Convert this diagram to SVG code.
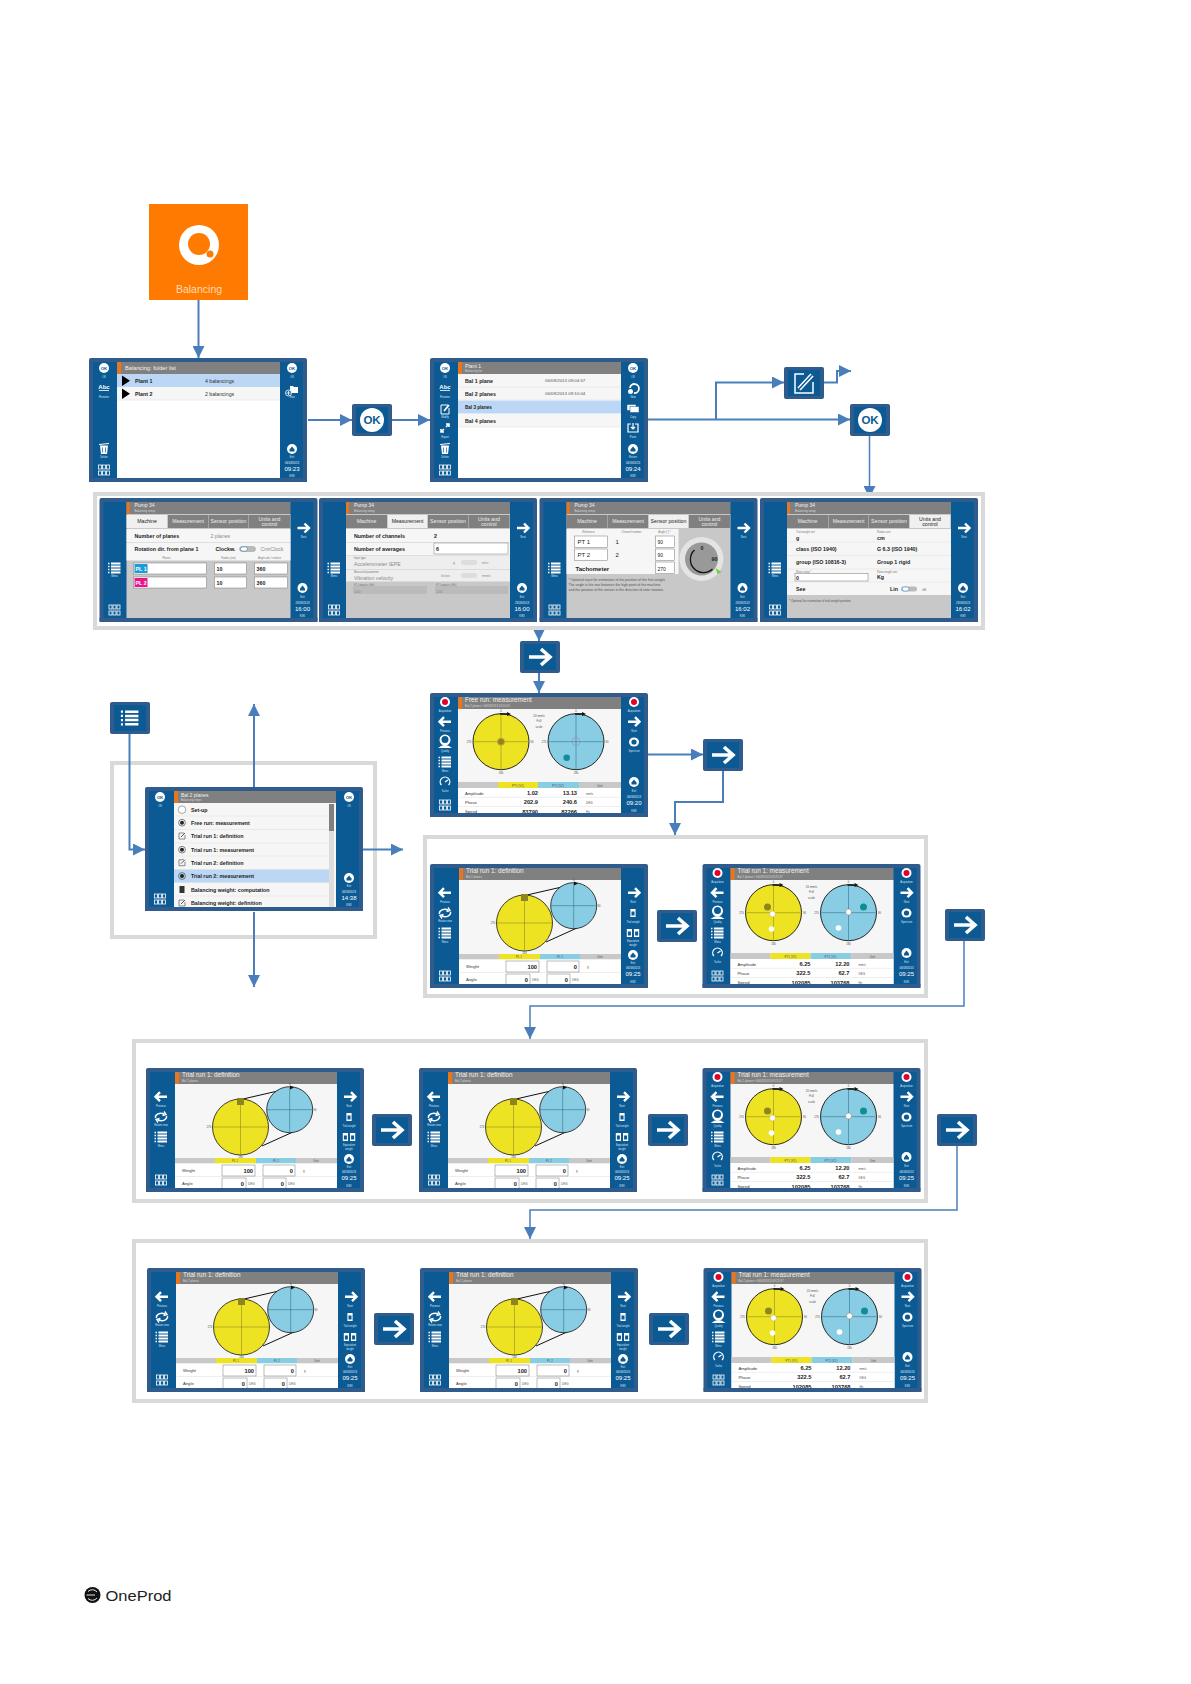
<svg xmlns="http://www.w3.org/2000/svg" width="1191" height="1684" viewBox="0 0 1191 1684">
<style>
text{font-family:"Liberation Sans",Arial,sans-serif}
.frame{fill:#fff;stroke:#d9d9d9;stroke-width:4}
.c{fill:none;stroke:#4a7ebb;stroke-width:2}
.c1{fill:none;stroke:#4a7ebb;stroke-width:1.5}
.l{fill:#d5e6f2;font-size:2.6px;text-anchor:middle}
.d{fill:#e6f0f7;font-size:2.8px;text-anchor:middle}
.h{fill:#fff;font-size:6px;text-anchor:middle}
.tt{fill:#f2f2f2;font-size:6.400px}
.st{fill:#d8d8d8;font-size:2.9px}
.ok{fill:#0b5a94;font-size:4.4px;font-weight:bold;text-anchor:middle}
.ax{fill:#444;font-size:2.6px;text-anchor:middle}
.th{fill:#555;font-size:3px;text-anchor:middle}
.r{fill:#333;font-size:4.2px}
.r2{fill:#333;font-size:5.200px}
.r3{fill:#222;font-size:6px}
.b{fill:#222;font-size:5.300px;font-weight:bold}
.v{fill:#222;font-size:5.700px;font-weight:bold;text-anchor:end}
.u{fill:#555;font-size:3px}
.g{fill:#8a8a8a;font-size:5.200px}
.s{fill:#777;font-size:2.7px}
.tab{fill:#eee;font-size:5.200px;text-anchor:middle}
.tabA{fill:#222;font-size:5.200px;text-anchor:middle}
.w{fill:none;stroke:#fff}
.in{fill:#fff;stroke:#777;stroke-width:.5}
</style>
<defs>
<marker id="ah" markerUnits="userSpaceOnUse" markerWidth="13" markerHeight="12" refX="12" refY="6" orient="auto"><path d="M0 0L12 6L0 12Z" fill="#4a7ebb"/></marker>
<g id="shell"><rect width="218" height="124" rx="2" fill="#2f5b8d"/><rect x="4" y="4" width="210" height="116" fill="#0b5a94"/></g>
<rect id="foot" y="120" width="218" height="4" fill="#2f5b8d"/>
<g id="ic-dot"><circle r="5" fill="#fff"/></g>
<g id="ic-rec"><circle r="5" fill="#fff"/><circle r="3" fill="#e3002b"/></g>
<path id="ic-next" d="M-6 0H5M1-4.5L5.5 0L1 4.5" class="w" stroke-width="2.4"/>
<path id="ic-prev" d="M6 0H-5M-1-4.5L-5.5 0L-1 4.5" class="w" stroke-width="2.4"/>
<g id="ic-list"><path d="M-3.5-4.5H6M-3.5-1.5H6M-3.5 1.5H6M-3.5 4.5H6" class="w" stroke-width="1.8"/><path d="M-6.5-4.5H-5M-6.5-1.5H-5M-6.5 1.5H-5M-6.5 4.5H-5" class="w" stroke-width="1.6"/></g>
<g id="ic-grid" class="w" stroke-width=".8"><rect x="-5.5" y="-5" width="3" height="4"/><rect x="-1.5" y="-5" width="3" height="4"/><rect x="2.5" y="-5" width="3" height="4"/><rect x="-5.5" y="1" width="3" height="4"/><rect x="-1.5" y="1" width="3" height="4"/><rect x="2.5" y="1" width="3" height="4"/></g>
<g id="ic-exit"><circle r="5" fill="#fff"/><path d="M-2.5 .5L0-2.5L2.5 .5V2.5H-2.5Z" fill="#0b5a94"/></g>
<g id="ic-person"><circle cy="-2" r="5.5" fill="#fff"/><circle cy="-2.5" r="3.5" fill="#0b5a94"/><path d="M-7 6Q0 0 7 6Z" fill="#fff"/></g>
<path id="ic-gauge" d="M-3.6 3A4.8 4.8 0 1 1 3.6 3M0 0L3-2" class="w" stroke-width="1.3"/>
<path id="ic-swap" d="M-5.5 1A5.5 4 0 0 1 3-3M5.5-1A5.5 4 0 0 1-3 3M3-5.5L5-2.5L1.5-1.5M-3 5.5L-5 2.5L-1.5 1.5" class="w" stroke-width="1.4"/>
<g id="ic-eye"><ellipse rx="5" ry="4.6" fill="#fff"/><circle r="2.6" fill="#0b5a94"/></g>
<g id="ic-w"><rect x="-2.6" y="-4" width="5.2" height="8" fill="#fff"/><rect x="-1.5" y="-1.5" width="3" height="4" fill="#0b5a94"/></g>
<g id="ic-dual"><use href="#ic-w" x="-3.6"/><use href="#ic-w" x="3.6"/></g>
<g id="ic-trash"><path d="M-4-3.5H4L3 5H-3Z" fill="#fff"/><path d="M-5-4.5L5-5.5M-1.5-1.5V3.5M1.5-1.5V3.5" stroke="#0b5a94" stroke-width=".7"/><path d="M-5-4.5L5-5.5" stroke="#fff" stroke-width="1"/></g>
<g id="ic-edit"><path d="M3-4H-4V5H4V-1" class="w" stroke-width="1"/><path d="M-1 2L4-4" class="w" stroke-width="1.8"/></g>
<g id="ic-folder"><path d="M-2-4H1L2-3H6V3H-2Z" fill="#fff"/><circle cx="-3.5" cy="3" r="3" fill="#0b5a94" stroke="#fff" stroke-width=".8"/><path d="M-5.5 3H-1.5M-3.5 1V5" stroke="#fff" stroke-width=".8"/></g>
<path id="ic-expand" d="M-4 4L-1 1M4-4L1-1M-4 1V4H-1M1-4H4V-1" class="w" stroke-width="1.6"/>
<g id="ic-refresh"><path d="M-3-1A4.5 4.5 0 1 1 1 4" class="w" stroke-width="1.8"/><circle cx="-2.5" cy="2.5" r="2.5" fill="#fff"/></g>
<g id="ic-copy"><rect x="-6" y="-3.5" width="9" height="6" fill="#fff" stroke="#0b5a94" stroke-width=".5"/><rect x="-3" y="-1.5" width="9" height="6" fill="#fff" stroke="#0b5a94" stroke-width=".5"/></g>
<path id="ic-paste" d="M-2-4H-5V4H5V-4H2M0-5V1M-2-1L0 1L2-1" class="w" stroke-width="1.2"/>
<g id="ic-edit-d"><path d="M2-3H-3V3H3V-1" fill="none" stroke="#444" stroke-width=".6"/><path d="M-1 1L3-3" stroke="#444" stroke-width=".9"/></g>
<g id="ic-radio"><circle r="3.4" fill="none" stroke="#333" stroke-width=".6"/><circle r="2" fill="#222"/></g>
<g id="list-bg"><use href="#shell"/><rect x="28" y="16" width="163" height="105" fill="#fff"/><rect x="28" y="4" width="163" height="12" fill="#808080"/><rect x="28" y="4" width="4" height="12" fill="#e8761f"/></g>
<g id="set-bg"><use href="#shell"/><rect x="27" y="16" width="164" height="105" fill="#c8c8c8"/><rect x="27" y="4" width="164" height="12" fill="#808080"/><rect x="27" y="4" width="3" height="12" fill="#e8761f"/><rect x="27" y="17" width="41" height="13" fill="#808080"/><rect x="68.500" y="17" width="40" height="13" fill="#808080"/><rect x="109" y="17" width="40" height="13" fill="#808080"/><rect x="149.500" y="17" width="41" height="13" fill="#808080"/><use href="#ic-next" x="204" y="30"/><use href="#ic-exit" x="203" y="90"/><use href="#ic-list" x="15" y="70"/><use href="#ic-grid" x="15" y="112"/></g>
<g id="def-bg"><use href="#shell"/><rect x="29" y="16" width="162" height="105" fill="#f6f6f6"/><rect x="29" y="4" width="162" height="12" fill="#808080"/><rect x="29" y="4" width="4" height="12" fill="#e8761f"/>
<path d="M97 31L147 19.500M116 78L147 64" stroke="#111" stroke-width="1"/><circle cx="94.500" cy="59" r="28" fill="#ede322" stroke="#111" stroke-width=".8"/><circle cx="143.700" cy="41.700" r="23" fill="#89cde4" stroke="#111" stroke-width=".8"/>
<path d="M94.500 31V87M66.500 59H122.500" stroke="#7d7a1d" stroke-width=".5"/><path d="M143.700 19V65M120.700 41.700H166.700" stroke="#20607a" stroke-width=".5"/><rect x="91" y="30" width="7" height="7" fill="#8d8620"/><path d="M144 17.500L148 19.500L144 21.500Z" fill="#111"/>
<rect x="29" y="90" width="40" height="5.500" fill="#c8c8c8"/><rect x="69" y="90" width="41" height="5.500" fill="#ede322"/><rect x="110" y="90" width="40" height="5.500" fill="#89cde4"/><rect x="150" y="90" width="41" height="5.500" fill="#c8c8c8"/>
<rect x="29" y="95.500" width="162" height="26" fill="#fff"/><path d="M29 108.500H191" stroke="#ddd" stroke-width=".5"/>
<rect x="76" y="97" width="33" height="11" class="in"/><rect x="117" y="97" width="32" height="11" class="in"/><rect x="76" y="110" width="24" height="11" class="in"/><rect x="117" y="110" width="23" height="11" class="in"/>
<use href="#ic-prev" x="15" y="28.700"/><use href="#ic-swap" x="15" y="49"/><use href="#ic-list" x="15" y="69"/><use href="#ic-grid" x="15" y="112"/><use href="#ic-next" x="204" y="28.700"/><use href="#ic-w" x="203" y="49"/><use href="#ic-dual" x="203" y="69"/><use href="#ic-exit" x="203" y="91"/></g>
<g id="meas-bg"><use href="#shell"/><rect x="28" y="16" width="163" height="105" fill="#f6f6f6"/><rect x="28" y="4" width="163" height="12" fill="#808080"/><rect x="28" y="4" width="4" height="12" fill="#e8761f"/>
<circle cx="71" cy="48.700" r="28" fill="#ede322" stroke="#111" stroke-width=".9"/><circle cx="146" cy="48.700" r="28" fill="#89cde4" stroke="#111" stroke-width=".9"/>
<path d="M71 20.700V76.700M43 48.700H99" stroke="#7d7a1d" stroke-width=".5"/><path d="M146 20.700V76.700M118 48.700H174" stroke="#20607a" stroke-width=".5"/>
<path d="M70 21H77M145 21H152" stroke="#111" stroke-width="1.400"/><path d="M77 19L81 21L77 23ZM152 19L156 21L152 23Z" fill="#111"/>
<rect x="28" y="89" width="40" height="6" fill="#c8c8c8"/><rect x="68" y="89" width="40" height="6" fill="#ede322"/><rect x="108" y="89" width="41" height="6" fill="#89cde4"/><rect x="149" y="89" width="42" height="6" fill="#c8c8c8"/>
<rect x="28" y="95" width="163" height="26" fill="#fff"/><path d="M28 104.300H191M28 113.500H191" stroke="#ddd" stroke-width=".5"/>
<use href="#ic-rec" x="15" y="9"/><use href="#ic-prev" x="15" y="28.700"/><use href="#ic-person" x="15" y="49"/><use href="#ic-list" x="15" y="69"/><use href="#ic-gauge" x="15" y="89"/><use href="#ic-grid" x="15" y="112"/><use href="#ic-rec" x="204" y="9"/><use href="#ic-next" x="204" y="28.700"/><use href="#ic-eye" x="204" y="49"/><use href="#ic-exit" x="204" y="89"/></g>
<g id="meas-dots"><circle cx="65" cy="43" r="3.500" fill="#8d8620"/><circle cx="70" cy="50" r="3" fill="#fff" stroke="#c9a030" stroke-width=".5"/><circle cx="69" cy="65" r="2.800" fill="#fff"/><circle cx="161" cy="43" r="3.500" fill="#0e8f96"/><circle cx="146" cy="48" r="3" fill="#fff" stroke="#777" stroke-width=".5"/><circle cx="136" cy="64" r="2.800" fill="#fff"/></g>
<g id="btn"><rect width="40" height="32" rx="2" fill="#2f5b8d"/><rect x="4" y="3" width="32" height="26" fill="#0b5a94"/></g>
<g id="btn-arrow"><use href="#btn"/><path d="M9 16H29M21 8L30 16L21 24" fill="none" stroke="#fff" stroke-width="3.600"/></g>
</defs>

<g id="frames">
<rect class="frame" x="112" y="763" width="263" height="174"/>
<rect class="frame" x="425" y="837" width="501" height="159"/>
<rect class="frame" x="134" y="1041" width="792" height="160"/>
<rect class="frame" x="134" y="1241" width="792" height="160"/>
</g>

<g id="connectors">
<path class="c" marker-end="url(#ah)" d="M198.500 300V358"/>
<path class="c" marker-end="url(#ah)" d="M308 420H352"/>
<path class="c" marker-end="url(#ah)" d="M392 420H430"/>
<path class="c" marker-end="url(#ah)" d="M648 419.500H850"/>
<path class="c" marker-end="url(#ah)" d="M716 419.500V382.500H784"/>
<path class="c" marker-end="url(#ah)" d="M824 382.500H837V371H851"/>
<path class="c1" marker-end="url(#ah)" d="M869.500 436V498"/>
<path class="c" marker-end="url(#ah)" d="M539 622V641"/>
<path class="c" marker-end="url(#ah)" d="M539 672V693"/>
<path class="c" marker-end="url(#ah)" d="M648 754.500H703"/>
<path class="c" marker-end="url(#ah)" d="M723 771V802H675V835"/>
<path class="c" marker-end="url(#ah)" d="M129.500 733V849.500H145"/>
<path class="c" marker-end="url(#ah)" d="M254 787V704"/>
<path class="c" marker-end="url(#ah)" d="M254 912V987"/>
<path class="c" marker-end="url(#ah)" d="M363 849.500H403"/>
<path class="c1" marker-end="url(#ah)" d="M964 941V1006H530V1039"/>
<path class="c1" marker-end="url(#ah)" d="M957 1146V1210H530V1239"/>
</g>

<rect class="frame" id="frame-setup" x="95" y="494" width="888" height="134"/>

<g id="tile-balancing"><rect x="149" y="204" width="99" height="96" fill="#ff7a00"/><circle cx="199" cy="245" r="20" fill="#fff"/><circle cx="199" cy="244" r="11" fill="#ff7a00"/><circle cx="210" cy="254" r="3.500" fill="#ff7a00"/><text x="199" y="293" font-size="10.500" text-anchor="middle" fill="#ffdcb8">Balancing</text></g>

<g id="screen-folders" transform="translate(89 358)"><use href="#list-bg"/>
<rect x="28" y="16" width="163" height="13" fill="#bcd7f5"/><rect x="28" y="29" width="163" height="13" fill="#f6f6f6"/><path d="M28 42H191" stroke="#ddd" stroke-width=".5"/>
<path d="M33 17.500L41 22.700L33 28ZM33 30.500L41 35.700L33 41Z" fill="#000"/>
<text class="tt" x="36" y="11.500" style="font-size:5.700px">Balancing: folder list</text>
<text class="b" x="46" y="24.500">Plant 1</text><text class="r2" x="116" y="24.500">4 balancings</text><text class="b" x="46" y="37.500">Plant 2</text><text class="r2" x="116" y="37.500">2 balancings</text>
<use href="#ic-dot" x="15" y="10"/><text class="ok" x="15" y="11.600">OK</text><text class="l" x="15" y="20">OK</text>
<text x="15" y="31" font-size="6" font-weight="bold" fill="#fff" text-anchor="middle">Abc</text><path d="M10 32.500H20" stroke="#fff" stroke-width=".8"/><text class="l" x="15" y="40">Rename</text>
<use href="#ic-trash" x="15" y="91"/><text class="l" x="15" y="100">Delete</text><use href="#ic-grid" x="15" y="112"/>
<use href="#ic-dot" x="203" y="10"/><text class="ok" x="203" y="11.600">OK</text><text class="l" x="203" y="20">OK</text>
<use href="#ic-folder" x="203" y="32"/><text class="l" x="203" y="40">New</text>
<use href="#ic-exit" x="203" y="91"/><text class="l" x="203" y="100">Exit</text><text class="d" x="203" y="106">06/09/2013</text><text class="h" x="203" y="113">09:23</text><text class="d" x="203" y="119">KIKI</text><use href="#foot"/></g>

<g id="screen-balancings" transform="translate(430 358)"><use href="#list-bg"/>
<rect x="28" y="16" width="163" height="13" fill="#f6f6f6"/><rect x="28" y="29" width="163" height="13" fill="#f6f6f6"/><rect x="28" y="42.500" width="163" height="13" fill="#bcd7f5"/><rect x="28" y="56" width="163" height="13" fill="#f6f6f6"/><path d="M28 29H191M28 42H191M28 69H191" stroke="#ddd" stroke-width=".5"/>
<text class="tt" x="35" y="9.500" style="font-size:5.200px">Plant 1</text><text class="st" x="35" y="14">Balancing list</text>
<text class="b" x="35" y="24.500">Bal 1 plane</text><text class="u" x="115" y="24" style="font-size:4.400px">06/09/2013 09:04:57</text><text class="b" x="35" y="37.500">Bal 2 planes</text><text class="u" x="115" y="37" style="font-size:4.400px">06/09/2013 09:10:04</text><text class="b" x="35" y="50.700" style="font-size:4.600px">Bal 3 planes</text><text class="b" x="35" y="64.500">Bal 4 planes</text>
<use href="#ic-dot" x="15" y="10"/><text class="ok" x="15" y="11.600">OK</text><text class="l" x="15" y="20">OK</text>
<text x="15" y="31" font-size="6" font-weight="bold" fill="#fff" text-anchor="middle">Abc</text><path d="M10 32.500H20" stroke="#fff" stroke-width=".8"/><text class="l" x="15" y="40">Rename</text>
<use href="#ic-edit" x="15" y="51"/><text class="l" x="15" y="60">Modify</text><use href="#ic-expand" x="15" y="70"/><text class="l" x="15" y="80">Export</text><use href="#ic-trash" x="15" y="91"/><text class="l" x="15" y="100">Delete</text><use href="#ic-grid" x="15" y="112"/>
<use href="#ic-dot" x="203" y="10"/><text class="ok" x="203" y="11.600">OK</text><text class="l" x="203" y="20">OK</text>
<use href="#ic-refresh" x="203" y="31"/><text class="l" x="203" y="40">New</text><use href="#ic-copy" x="203" y="50"/><text class="l" x="203" y="60">Copy</text><use href="#ic-paste" x="203" y="70"/><text class="l" x="203" y="80">Paste</text>
<use href="#ic-exit" x="203" y="91"/><text class="l" x="203" y="100">Return</text><text class="d" x="203" y="106">06/09/2013</text><text class="h" x="203" y="113">09:24</text><text class="d" x="203" y="119">KIKI</text><use href="#foot"/></g>

<g id="btn-ok-1" transform="translate(352 404)"><use href="#btn"/><circle cx="20" cy="16" r="12" fill="#fff"/><text x="20" y="20" font-size="11.500" font-weight="bold" fill="#0b5a94" text-anchor="middle">OK</text></g>
<g id="btn-edit" transform="translate(784 367)"><use href="#btn"/><path d="M20 7H11V26H29V15" fill="none" stroke="#fff" stroke-width="1.500"/><path d="M15 22L28 8" stroke="#fff" stroke-width="4.500"/><path d="M15 22L28 8" stroke="#0b5a94" stroke-width="1.500"/></g>
<g id="btn-ok-2" transform="translate(850 404)"><use href="#btn"/><circle cx="20" cy="16" r="12" fill="#fff"/><text x="20" y="20" font-size="11.500" font-weight="bold" fill="#0b5a94" text-anchor="middle">OK</text></g>

<g id="screen-setup-machine" transform="translate(99.500 498)"><use href="#set-bg"/>
<rect x="27" y="17" width="41" height="13" fill="#f0f0f0"/><rect x="27" y="31" width="164" height="13" fill="#f6f6f6"/><rect x="27" y="44.500" width="164" height="18" fill="#f6f6f6"/>
<text class="tt" x="35" y="9" style="font-size:5px">Pump 34</text><text class="st" x="35" y="13.500">Balancing setup</text>
<text class="tabA" x="47.500" y="25">Machine</text><text class="tab" x="88.500" y="25">Measurement</text><text class="tab" x="129" y="25">Sensor position</text><text class="tab" x="170" y="22.500">Units and</text><text class="tab" x="170" y="28">control</text>
<text class="b" x="35" y="39.500">Number of planes</text><text class="g" x="111" y="39.500">2 planes</text>
<text class="b" x="35" y="52.500">Rotation dir. from plane 1</text><text class="b" x="116" y="52.500">Clockw.</text><rect x="140" y="48.500" width="16" height="5" rx="2.500" fill="#bbb" stroke="#888" stroke-width=".4"/><rect x="141" y="49" width="7" height="4" rx="2" fill="#fff" stroke="#1b75b5" stroke-width=".5"/><text class="g" x="161" y="52.500">CntrClock</text>
<text class="s" x="67" y="61" text-anchor="middle">Planes</text><text class="s" x="129" y="61" text-anchor="middle">Radius (cm)</text><text class="s" x="170" y="61" text-anchor="middle">Angle abs / relative</text>
<rect class="in" x="34" y="65" width="73" height="11"/><rect class="in" x="115" y="65" width="32" height="11"/><rect class="in" x="155" y="65" width="33" height="11"/><rect class="in" x="34" y="79" width="73" height="11"/><rect class="in" x="115" y="79" width="32" height="11"/><rect class="in" x="155" y="79" width="33" height="11"/>
<rect x="35" y="66" width="13" height="9" fill="#1b9bd7"/><rect x="35" y="80" width="13" height="9" fill="#e6178c"/><text class="b" x="36" y="72.500" style="fill:#fff">PL 1</text><text class="b" x="36" y="86.500" style="fill:#fff">PL 2</text>
<text class="b" x="117" y="72.500">10</text><text class="b" x="157" y="72.500">360</text><text class="b" x="117" y="86.500">10</text><text class="b" x="157" y="86.500">360</text>
<text class="l" x="204" y="40">Next</text><text class="l" x="15" y="79">Menu</text><text class="l" x="203" y="100">Exit</text><text class="d" x="203" y="106">23/09/2013</text><text class="h" x="203" y="113">16:00</text><text class="d" x="203" y="119">KIKI</text><use href="#foot"/></g>

<g id="screen-setup-measurement" transform="translate(319 498)"><use href="#set-bg"/>
<rect x="68.500" y="17" width="40" height="13" fill="#f0f0f0"/><rect x="27" y="31" width="164" height="13" fill="#f6f6f6"/><rect x="27" y="44.500" width="164" height="13" fill="#f6f6f6"/><rect x="27" y="58" width="164" height="13" fill="#eee"/><rect x="27" y="71.500" width="164" height="12" fill="#eee"/>
<text class="tt" x="35" y="9" style="font-size:5px">Pump 34</text><text class="st" x="35" y="13.500">Balancing setup</text>
<text class="tab" x="47.500" y="25">Machine</text><text class="tabA" x="88.500" y="25">Measurement</text><text class="tab" x="129" y="25">Sensor position</text><text class="tab" x="170" y="22.500">Units and</text><text class="tab" x="170" y="28">control</text>
<text class="b" x="35" y="39.500">Number of channels</text><text class="b" x="115" y="39.500">2</text><text class="b" x="35" y="52.500">Number of averages</text><rect class="in" x="115" y="45" width="74" height="11"/><text class="b" x="117" y="52.500">6</text>
<text class="s" x="35" y="61">Input type</text><text class="g" x="35" y="68">Accelerometer IEPE</text><text class="g" x="134" y="66" style="font-size:3.500px">g</text><rect x="142" y="62" width="16" height="5" rx="2" fill="#ddd"/><text class="g" x="163" y="66" style="font-size:3.500px">m/s²</text>
<text class="s" x="35" y="74.500">Measured parameter</text><text class="g" x="35" y="81.500">Vibration velocity</text><text class="g" x="122" y="79" style="font-size:3.500px">In/sec</text><rect x="142" y="75" width="16" height="5" rx="2" fill="#ddd"/><text class="g" x="163" y="79" style="font-size:3.500px">mm/s</text>
<rect x="34" y="88" width="74" height="8" fill="#bbb"/><rect x="116" y="88" width="73" height="8" fill="#bbb"/><text class="s" x="35" y="87.500">F1 Lowpass (Hz)</text><text class="s" x="117" y="87.500">F2 Lowpass (Hz)</text><text class="g" x="35" y="94.500" style="font-size:4px">100</text><text class="g" x="117" y="94.500" style="font-size:4px">100</text>
<text class="l" x="204" y="40">Next</text><text class="l" x="15" y="79">Menu</text><text class="l" x="203" y="100">Exit</text><text class="d" x="203" y="106">23/09/2013</text><text class="h" x="203" y="113">16:00</text><text class="d" x="203" y="119">KIKI</text><use href="#foot"/></g>

<g id="screen-setup-sensor" transform="translate(539.500 498)"><use href="#set-bg"/>
<rect x="109" y="17" width="40" height="13" fill="#f0f0f0"/><rect x="27" y="31" width="112" height="45" fill="#f6f6f6"/>
<text class="tt" x="35" y="9" style="font-size:5px">Pump 34</text><text class="st" x="35" y="13.500">Balancing setup</text>
<text class="tab" x="47.500" y="25">Machine</text><text class="tab" x="88.500" y="25">Measurement</text><text class="tabA" x="129" y="25">Sensor position</text><text class="tab" x="170" y="22.500">Units and</text><text class="tab" x="170" y="28">control</text>
<text class="s" x="49" y="34.500" text-anchor="middle">Reference</text><text class="s" x="92" y="34.500" text-anchor="middle">Channel number</text><text class="s" x="125" y="34.500" text-anchor="middle">Angle (°) *</text>
<rect class="in" x="35" y="38" width="33" height="11.500"/><rect class="in" x="116" y="38" width="19" height="11.500"/><rect class="in" x="35" y="51" width="33" height="11.500"/><rect class="in" x="116" y="51" width="19" height="11.500"/><rect class="in" x="116" y="64" width="19" height="11.500"/>
<text class="r3" x="38" y="46">PT 1</text><text class="r3" x="76" y="46">1</text><text class="r3" x="118" y="46" style="font-size:5px">90</text><text class="r3" x="38" y="59">PT 2</text><text class="r3" x="76" y="59">2</text><text class="r3" x="118" y="59" style="font-size:5px">90</text><text class="b" x="36" y="72.500" style="font-size:6px">Tachometer</text><text class="r3" x="118" y="72.500" style="font-size:5px">270</text>
<text class="u" x="29" y="83" style="font-size:3.500px">* Optional input for estimation of the position of the first weight.</text><text class="u" x="29" y="88" style="font-size:3.500px">The angle is the one between the high point of the machine</text><text class="u" x="29" y="93" style="font-size:3.500px">and the position of the sensor in the direction of rotor rotation.</text>
<circle cx="162" cy="61" r="22" fill="#e4e4e4"/><circle cx="162" cy="61" r="16.500" fill="#999"/><path d="M155 52A11.500 11.500 0 1 0 173 71" fill="none" stroke="#111" stroke-width="1.300"/><path d="M176 70L182 74L178 76Z" fill="#6fd13c"/><text class="b" x="161" y="52">0</text><text class="b" x="172" y="63">90</text>
<text class="l" x="204" y="40">Next</text><text class="l" x="15" y="79">Menu</text><text class="l" x="203" y="100">Exit</text><text class="d" x="203" y="106">23/09/2013</text><text class="h" x="203" y="113">16:02</text><text class="d" x="203" y="119">KIKI</text><use href="#foot"/></g>

<g id="screen-setup-units" transform="translate(760 498)"><use href="#set-bg"/>
<rect x="149.500" y="17" width="41" height="13" fill="#f0f0f0"/><rect x="27" y="31" width="164" height="66" fill="#f6f6f6"/><path d="M27 44H191M27 57.500H191M27 71H191M27 84H191" stroke="#ddd" stroke-width=".5"/>
<text class="tt" x="35" y="9" style="font-size:5px">Pump 34</text><text class="st" x="35" y="13.500">Balancing setup</text>
<text class="tab" x="47.500" y="25">Machine</text><text class="tab" x="88.500" y="25">Measurement</text><text class="tab" x="129" y="25">Sensor position</text><text class="tabA" x="170" y="22.500">Units and</text><text class="tabA" x="170" y="28">control</text>
<text class="s" x="36" y="34.500">Trial weight unit</text><text class="b" x="36" y="41.500">g</text><text class="s" x="117" y="34.500">Radius unit</text><text class="b" x="117" y="41.500">cm</text>
<text class="b" x="36" y="52.500">class (ISO 1940)</text><text class="b" x="117" y="52.500">G 6.3 (ISO 1940)</text><text class="b" x="36" y="66">group (ISO 10816-3)</text><text class="b" x="117" y="66">Group 1 rigid</text>
<rect class="in" x="35" y="75.500" width="73" height="7.500"/><text class="s" x="36" y="74.500">Rotor value *</text><text class="b" x="36" y="82">0</text><text class="s" x="117" y="74.500">Rotor weight unit</text><text class="b" x="117" y="81">Kg</text>
<text class="b" x="36" y="92.500">See</text><text class="b" x="130" y="92.500">Lin</text><rect x="141" y="88.500" width="16" height="5" rx="2.500" fill="#bbb"/><rect x="142" y="89" width="7" height="4" rx="2" fill="#fff" stroke="#1b75b5" stroke-width=".5"/><text class="g" x="162" y="92.500" style="font-size:3.800px">dB</text>
<text class="u" x="29" y="104">* Optional for estimation of trial weight position</text>
<text class="l" x="204" y="40">Next</text><text class="l" x="15" y="79">Menu</text><text class="l" x="203" y="100">Exit</text><text class="d" x="203" y="106">23/09/2013</text><text class="h" x="203" y="113">16:02</text><text class="d" x="203" y="119">KIKI</text><use href="#foot"/></g>

<use id="btn-arrow-1" href="#btn-arrow" x="520" y="641"/>

<g id="btn-menu" transform="translate(110 702)"><use href="#btn"/><g transform="translate(20 16) scale(1.400)"><use href="#ic-list"/></g></g>

<g id="screen-menu" transform="translate(145 787)"><use href="#shell"/><rect x="29" y="16" width="162" height="105" fill="#f6f6f6"/><rect x="29" y="4" width="162" height="12" fill="#808080"/><rect x="29" y="4" width="4" height="12" fill="#e8761f"/>
<rect x="29" y="82.500" width="155" height="13" fill="#bcd7f5"/><path d="M29 29H184M29 42.500H184M29 56H184M29 69H184M29 82.500H184M29 95.500H184M29 109H184" stroke="#ddd" stroke-width=".5"/><rect x="184" y="17" width="5" height="104" fill="#ddd"/><rect x="184" y="17" width="5" height="27" fill="#808080"/>
<text class="tt" x="36" y="9.500" style="font-size:5px">Bal 2 planes</text><text class="st" x="36" y="14">Balancing steps</text>
<circle cx="37" cy="22.700" r="3.800" fill="#fff" stroke="#555" stroke-width=".5"/><text class="b" x="46" y="24.500">Set-up</text>
<use href="#ic-radio" x="37" y="35.700"/><text class="b" x="46" y="37.500">Free run: measurement</text>
<use href="#ic-edit-d" x="37" y="49"/><text class="b" x="46" y="50.700">Trial run 1: definition</text>
<use href="#ic-radio" x="37" y="62.700"/><text class="b" x="46" y="64.500">Trial run 1: measurement</text>
<use href="#ic-edit-d" x="37" y="75.700"/><text class="b" x="46" y="77.500">Trial run 2: definition</text>
<use href="#ic-radio" x="37" y="89"/><text class="b" x="46" y="90.700">Trial run 2: measurement</text>
<rect x="34.500" y="99" width="5" height="7" fill="#333"/><text class="b" x="46" y="104.500">Balancing weight: computation</text>
<use href="#ic-edit-d" x="37" y="116"/><text class="b" x="46" y="117.700">Balancing weight: definition</text>
<use href="#ic-dot" x="15" y="10"/><text class="ok" x="15" y="11.600">OK</text><text class="l" x="15" y="20">OK</text><use href="#ic-grid" x="15" y="112"/>
<use href="#ic-dot" x="204" y="10"/><text class="ok" x="204" y="11.600">OK</text><text class="l" x="204" y="20">OK</text><use href="#ic-exit" x="204" y="91"/><text class="l" x="204" y="100">Exit</text><text class="d" x="204" y="106">06/09/2013</text><text class="h" x="204" y="113">14:38</text><text class="d" x="204" y="119">KIKI</text><use href="#foot"/></g>

<g id="screen-free-run" transform="translate(430 693)"><use href="#meas-bg"/>
<circle cx="71" cy="48.700" r="3.500" fill="#8d8620" stroke="#c9a030" stroke-width="1"/><circle cx="146" cy="48.700" r="4" fill="none" stroke="#a5799e" stroke-width=".5"/><circle cx="136.700" cy="64.700" r="3.300" fill="#0e8f96"/>
<text class="tt" x="35" y="8.500">Free run: measurement</text><text class="st" x="35" y="13.500">Bal 2 planes • 06/09/2013 09:20:05</text>
<text class="ax"><tspan x="71" y="19">0</tspan><tspan x="102" y="50">90</tspan><tspan x="71" y="81">180</tspan><tspan x="39" y="50">270</tspan><tspan x="146" y="19">0</tspan><tspan x="177" y="50">90</tspan><tspan x="146" y="81">180</tspan><tspan x="114" y="50">270</tspan></text>
<text class="th" x="109" y="23.500">20 mm/s</text><text class="th" x="109" y="29">Full</text><text class="th" x="109" y="34.500">scale</text>
<text class="th" x="88" y="93.500">PT1 (V1)</text><text class="th" x="128" y="93.500">PT2 (V2)</text><text class="th" x="170" y="93.500">Unit</text>
<text class="r" x="35" y="101.500">Amplitude</text><text class="v" x="108" y="102">1.02</text><text class="v" x="147" y="102">13.13</text><text class="u" x="156" y="101.500">mm/s</text>
<text class="r" x="35" y="110.800">Phase</text><text class="v" x="108" y="111">202.9</text><text class="v" x="147" y="111">240.6</text><text class="u" x="156" y="110.800">DEG</text>
<text class="r" x="35" y="120">Speed</text><text class="v" x="108" y="120.500">83790</text><text class="v" x="147" y="120.500">82266</text><text class="u" x="156" y="120">Hz</text>
<text class="l" x="15" y="18.700">Acquisition</text><text class="l" x="15" y="39">Previous</text><text class="l" x="15" y="59">Quality</text><text class="l" x="15" y="79">Menu</text><text class="l" x="15" y="99">Tacho</text>
<text class="l" x="204" y="18.700">Acquisition</text><text class="l" x="204" y="39">Next</text><text class="l" x="204" y="59">Spectrum</text><text class="l" x="204" y="99">Exit</text><text class="d" x="204" y="105">06/09/2013</text><text class="h" x="204" y="112">09:20</text><text class="d" x="204" y="119">KIKI</text><use href="#foot"/></g>

<use id="btn-arrow-2" href="#btn-arrow" x="703" y="739"/>

<g id="screen-def-1" transform="translate(430 864)"><use href="#def-bg"/>
<text class="tt" x="36" y="8.500">Trial run 1: definition</text><text class="st" x="36" y="13.500">Bal 2 planes</text>
<text class="ax"><tspan x="143.700" y="17">0</tspan><tspan x="169" y="43">90</tspan><tspan x="94.500" y="90">180</tspan><tspan x="63" y="60">270</tspan></text>
<text class="th" x="89" y="94">PL 1</text><text class="th" x="130" y="94">PL 2</text><text class="th" x="170" y="94">Unit</text>
<text class="r" x="36" y="104">Weight</text><text class="v" x="107" y="105">100</text><text class="v" x="147" y="105">0</text><text class="u" x="157" y="104">g</text>
<text class="r" x="36" y="117">Angle</text><text class="v" x="98" y="118">0</text><text class="u" x="102" y="117">DEG</text><text class="v" x="138" y="118">0</text><text class="u" x="142" y="117">DEG</text>
<text class="l" x="15" y="39">Previous</text><text class="l" x="15" y="58">Rotate view</text><text class="l" x="15" y="79">Menu</text><text class="l" x="203" y="39">Next</text><text class="l" x="203" y="59">Trial weight</text><text class="l" x="203" y="78">Equivalent</text><text class="l" x="203" y="81.500">weight</text><text class="l" x="203" y="99.500">Exit</text><text class="d" x="203" y="105">06/09/2013</text><text class="h" x="203" y="112">09:25</text><text class="d" x="203" y="119">KIKI</text><use href="#foot"/></g>

<use id="btn-arrow-3" href="#btn-arrow" x="657" y="910"/>

<g id="screen-meas-1" transform="translate(702.500 864)"><use href="#meas-bg"/><use href="#meas-dots"/>
<text class="tt" x="35" y="8.500">Trial run 1: measurement</text><text class="st" x="35" y="13.500">Bal 2 planes • 06/09/2013 09:25:37</text>
<text class="ax"><tspan x="71" y="19">0</tspan><tspan x="102" y="50">90</tspan><tspan x="71" y="81">180</tspan><tspan x="39" y="50">270</tspan><tspan x="146" y="19">0</tspan><tspan x="177" y="50">90</tspan><tspan x="146" y="81">180</tspan><tspan x="114" y="50">270</tspan></text>
<text class="th" x="109" y="23.500">20 mm/s</text><text class="th" x="109" y="29">Full</text><text class="th" x="109" y="34.500">scale</text>
<text class="th" x="88" y="93.500">PT1 (V1)</text><text class="th" x="128" y="93.500">PT2 (V2)</text><text class="th" x="170" y="93.500">Unit</text>
<text class="r" x="35" y="101.500">Amplitude</text><text class="v" x="108" y="102">6.25</text><text class="v" x="147" y="102">12.20</text><text class="u" x="156" y="101.500">mm/s</text>
<text class="r" x="35" y="110.800">Phase</text><text class="v" x="108" y="111">322.5</text><text class="v" x="147" y="111">62.7</text><text class="u" x="156" y="110.800">DEG</text>
<text class="r" x="35" y="120">Speed</text><text class="v" x="108" y="120.500">102085</text><text class="v" x="147" y="120.500">103768</text><text class="u" x="156" y="120">Hz</text>
<text class="l" x="15" y="18.700">Acquisition</text><text class="l" x="15" y="39">Previous</text><text class="l" x="15" y="59">Quality</text><text class="l" x="15" y="79">Menu</text><text class="l" x="15" y="99">Tacho</text>
<text class="l" x="204" y="18.700">Acquisition</text><text class="l" x="204" y="39">Next</text><text class="l" x="204" y="59">Spectrum</text><text class="l" x="204" y="99">Exit</text><text class="d" x="204" y="105">06/09/2013</text><text class="h" x="204" y="112">09:25</text><text class="d" x="204" y="119">KIKI</text><use href="#foot"/></g>

<use id="btn-arrow-4" href="#btn-arrow" x="945" y="909"/>

<g id="screen-def-2" transform="translate(146 1068)"><use href="#def-bg"/>
<text class="tt" x="36" y="8.500">Trial run 1: definition</text><text class="st" x="36" y="13.500">Bal 2 planes</text>
<text class="ax"><tspan x="143.700" y="17">0</tspan><tspan x="169" y="43">90</tspan><tspan x="94.500" y="90">180</tspan><tspan x="63" y="60">270</tspan></text>
<text class="th" x="89" y="94">PL 1</text><text class="th" x="130" y="94">PL 2</text><text class="th" x="170" y="94">Unit</text>
<text class="r" x="36" y="104">Weight</text><text class="v" x="107" y="105">100</text><text class="v" x="147" y="105">0</text><text class="u" x="157" y="104">g</text>
<text class="r" x="36" y="117">Angle</text><text class="v" x="98" y="118">0</text><text class="u" x="102" y="117">DEG</text><text class="v" x="138" y="118">0</text><text class="u" x="142" y="117">DEG</text>
<text class="l" x="15" y="39">Previous</text><text class="l" x="15" y="58">Rotate view</text><text class="l" x="15" y="79">Menu</text><text class="l" x="203" y="39">Next</text><text class="l" x="203" y="59">Trial weight</text><text class="l" x="203" y="78">Equivalent</text><text class="l" x="203" y="81.500">weight</text><text class="l" x="203" y="99.500">Exit</text><text class="d" x="203" y="105">06/09/2013</text><text class="h" x="203" y="112">09:25</text><text class="d" x="203" y="119">KIKI</text><use href="#foot"/></g>

<use id="btn-arrow-5" href="#btn-arrow" x="372" y="1114"/>

<g id="screen-def-3" transform="translate(419 1068)"><use href="#def-bg"/>
<text class="tt" x="36" y="8.500">Trial run 1: definition</text><text class="st" x="36" y="13.500">Bal 2 planes</text>
<text class="ax"><tspan x="143.700" y="17">0</tspan><tspan x="169" y="43">90</tspan><tspan x="94.500" y="90">180</tspan><tspan x="63" y="60">270</tspan></text>
<text class="th" x="89" y="94">PL 1</text><text class="th" x="130" y="94">PL 2</text><text class="th" x="170" y="94">Unit</text>
<text class="r" x="36" y="104">Weight</text><text class="v" x="107" y="105">100</text><text class="v" x="147" y="105">0</text><text class="u" x="157" y="104">g</text>
<text class="r" x="36" y="117">Angle</text><text class="v" x="98" y="118">0</text><text class="u" x="102" y="117">DEG</text><text class="v" x="138" y="118">0</text><text class="u" x="142" y="117">DEG</text>
<text class="l" x="15" y="39">Previous</text><text class="l" x="15" y="58">Rotate view</text><text class="l" x="15" y="79">Menu</text><text class="l" x="203" y="39">Next</text><text class="l" x="203" y="59">Trial weight</text><text class="l" x="203" y="78">Equivalent</text><text class="l" x="203" y="81.500">weight</text><text class="l" x="203" y="99.500">Exit</text><text class="d" x="203" y="105">06/09/2013</text><text class="h" x="203" y="112">09:25</text><text class="d" x="203" y="119">KIKI</text><use href="#foot"/></g>

<use id="btn-arrow-6" href="#btn-arrow" x="648" y="1114"/>

<g id="screen-meas-2" transform="translate(702.500 1068)"><use href="#meas-bg"/><use href="#meas-dots"/>
<text class="tt" x="35" y="8.500">Trial run 1: measurement</text><text class="st" x="35" y="13.500">Bal 2 planes • 06/09/2013 09:25:37</text>
<text class="ax"><tspan x="71" y="19">0</tspan><tspan x="102" y="50">90</tspan><tspan x="71" y="81">180</tspan><tspan x="39" y="50">270</tspan><tspan x="146" y="19">0</tspan><tspan x="177" y="50">90</tspan><tspan x="146" y="81">180</tspan><tspan x="114" y="50">270</tspan></text>
<text class="th" x="109" y="23.500">20 mm/s</text><text class="th" x="109" y="29">Full</text><text class="th" x="109" y="34.500">scale</text>
<text class="th" x="88" y="93.500">PT1 (V1)</text><text class="th" x="128" y="93.500">PT2 (V2)</text><text class="th" x="170" y="93.500">Unit</text>
<text class="r" x="35" y="101.500">Amplitude</text><text class="v" x="108" y="102">6.25</text><text class="v" x="147" y="102">12.20</text><text class="u" x="156" y="101.500">mm/s</text>
<text class="r" x="35" y="110.800">Phase</text><text class="v" x="108" y="111">322.5</text><text class="v" x="147" y="111">62.7</text><text class="u" x="156" y="110.800">DEG</text>
<text class="r" x="35" y="120">Speed</text><text class="v" x="108" y="120.500">102085</text><text class="v" x="147" y="120.500">103768</text><text class="u" x="156" y="120">Hz</text>
<text class="l" x="15" y="18.700">Acquisition</text><text class="l" x="15" y="39">Previous</text><text class="l" x="15" y="59">Quality</text><text class="l" x="15" y="79">Menu</text><text class="l" x="15" y="99">Tacho</text>
<text class="l" x="204" y="18.700">Acquisition</text><text class="l" x="204" y="39">Next</text><text class="l" x="204" y="59">Spectrum</text><text class="l" x="204" y="99">Exit</text><text class="d" x="204" y="105">06/09/2013</text><text class="h" x="204" y="112">09:25</text><text class="d" x="204" y="119">KIKI</text><use href="#foot"/></g>

<use id="btn-arrow-7" href="#btn-arrow" x="937" y="1114"/>

<g id="screen-def-4" transform="translate(147 1268)"><use href="#def-bg"/>
<text class="tt" x="36" y="8.500">Trial run 1: definition</text><text class="st" x="36" y="13.500">Bal 2 planes</text>
<text class="ax"><tspan x="143.700" y="17">0</tspan><tspan x="169" y="43">90</tspan><tspan x="94.500" y="90">180</tspan><tspan x="63" y="60">270</tspan></text>
<text class="th" x="89" y="94">PL 1</text><text class="th" x="130" y="94">PL 2</text><text class="th" x="170" y="94">Unit</text>
<text class="r" x="36" y="104">Weight</text><text class="v" x="107" y="105">100</text><text class="v" x="147" y="105">0</text><text class="u" x="157" y="104">g</text>
<text class="r" x="36" y="117">Angle</text><text class="v" x="98" y="118">0</text><text class="u" x="102" y="117">DEG</text><text class="v" x="138" y="118">0</text><text class="u" x="142" y="117">DEG</text>
<text class="l" x="15" y="39">Previous</text><text class="l" x="15" y="58">Rotate view</text><text class="l" x="15" y="79">Menu</text><text class="l" x="203" y="39">Next</text><text class="l" x="203" y="59">Trial weight</text><text class="l" x="203" y="78">Equivalent</text><text class="l" x="203" y="81.500">weight</text><text class="l" x="203" y="99.500">Exit</text><text class="d" x="203" y="105">06/09/2013</text><text class="h" x="203" y="112">09:25</text><text class="d" x="203" y="119">KIKI</text><use href="#foot"/></g>

<use id="btn-arrow-8" href="#btn-arrow" x="374" y="1313"/>

<g id="screen-def-5" transform="translate(420 1268)"><use href="#def-bg"/>
<text class="tt" x="36" y="8.500">Trial run 1: definition</text><text class="st" x="36" y="13.500">Bal 2 planes</text>
<text class="ax"><tspan x="143.700" y="17">0</tspan><tspan x="169" y="43">90</tspan><tspan x="94.500" y="90">180</tspan><tspan x="63" y="60">270</tspan></text>
<text class="th" x="89" y="94">PL 1</text><text class="th" x="130" y="94">PL 2</text><text class="th" x="170" y="94">Unit</text>
<text class="r" x="36" y="104">Weight</text><text class="v" x="107" y="105">100</text><text class="v" x="147" y="105">0</text><text class="u" x="157" y="104">g</text>
<text class="r" x="36" y="117">Angle</text><text class="v" x="98" y="118">0</text><text class="u" x="102" y="117">DEG</text><text class="v" x="138" y="118">0</text><text class="u" x="142" y="117">DEG</text>
<text class="l" x="15" y="39">Previous</text><text class="l" x="15" y="58">Rotate view</text><text class="l" x="15" y="79">Menu</text><text class="l" x="203" y="39">Next</text><text class="l" x="203" y="59">Trial weight</text><text class="l" x="203" y="78">Equivalent</text><text class="l" x="203" y="81.500">weight</text><text class="l" x="203" y="99.500">Exit</text><text class="d" x="203" y="105">06/09/2013</text><text class="h" x="203" y="112">09:25</text><text class="d" x="203" y="119">KIKI</text><use href="#foot"/></g>

<use id="btn-arrow-9" href="#btn-arrow" x="649" y="1313"/>

<g id="screen-meas-3" transform="translate(703.500 1268)"><use href="#meas-bg"/><use href="#meas-dots"/>
<text class="tt" x="35" y="8.500">Trial run 1: measurement</text><text class="st" x="35" y="13.500">Bal 2 planes • 06/09/2013 09:25:37</text>
<text class="ax"><tspan x="71" y="19">0</tspan><tspan x="102" y="50">90</tspan><tspan x="71" y="81">180</tspan><tspan x="39" y="50">270</tspan><tspan x="146" y="19">0</tspan><tspan x="177" y="50">90</tspan><tspan x="146" y="81">180</tspan><tspan x="114" y="50">270</tspan></text>
<text class="th" x="109" y="23.500">20 mm/s</text><text class="th" x="109" y="29">Full</text><text class="th" x="109" y="34.500">scale</text>
<text class="th" x="88" y="93.500">PT1 (V1)</text><text class="th" x="128" y="93.500">PT2 (V2)</text><text class="th" x="170" y="93.500">Unit</text>
<text class="r" x="35" y="101.500">Amplitude</text><text class="v" x="108" y="102">6.25</text><text class="v" x="147" y="102">12.20</text><text class="u" x="156" y="101.500">mm/s</text>
<text class="r" x="35" y="110.800">Phase</text><text class="v" x="108" y="111">322.5</text><text class="v" x="147" y="111">62.7</text><text class="u" x="156" y="110.800">DEG</text>
<text class="r" x="35" y="120">Speed</text><text class="v" x="108" y="120.500">102085</text><text class="v" x="147" y="120.500">103768</text><text class="u" x="156" y="120">Hz</text>
<text class="l" x="15" y="18.700">Acquisition</text><text class="l" x="15" y="39">Previous</text><text class="l" x="15" y="59">Quality</text><text class="l" x="15" y="79">Menu</text><text class="l" x="15" y="99">Tacho</text>
<text class="l" x="204" y="18.700">Acquisition</text><text class="l" x="204" y="39">Next</text><text class="l" x="204" y="59">Spectrum</text><text class="l" x="204" y="99">Exit</text><text class="d" x="204" y="105">06/09/2013</text><text class="h" x="204" y="112">09:25</text><text class="d" x="204" y="119">KIKI</text><use href="#foot"/></g>

<g id="logo"><circle cx="92.500" cy="1595" r="8" fill="#111"/><path d="M88 1591.500A6 6 0 0 1 97 1592M86.500 1595H95M88 1598.500A6 6 0 0 0 97 1598" fill="none" stroke="#fff" stroke-width=".9"/><text x="105.500" y="1601" font-size="14.500" fill="#222" textLength="66" lengthAdjust="spacingAndGlyphs" font-family="Inter, sans-serif">OneProd</text></g>
</svg>
